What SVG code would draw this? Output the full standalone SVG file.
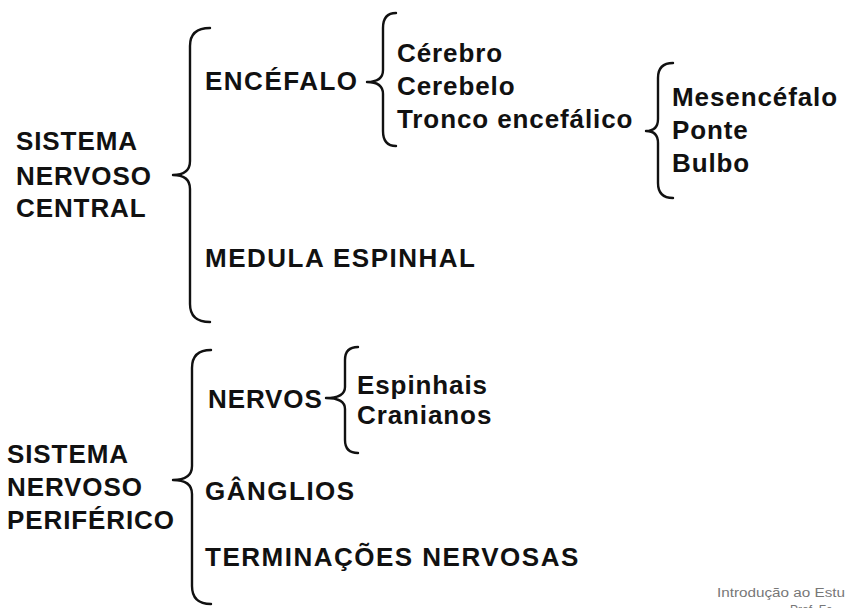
<svg xmlns="http://www.w3.org/2000/svg" width="845" height="608" viewBox="0 0 845 608">
<style>
.t{font-family:"Liberation Sans",Arial,sans-serif;font-weight:bold;font-size:26px;fill:#111;letter-spacing:0.9px}
.u{letter-spacing:1.5px}
.b{fill:none;stroke:#111;stroke-width:2.4;stroke-linecap:round;stroke-linejoin:round}
.f{font-family:"Liberation Sans",Arial,sans-serif;font-size:12px;fill:#777}
</style>
<rect width="845" height="608" fill="#fff"/>
<g id="connectors">
<path class="b" d="M210,28 Q190,28 190,46 L190,161 Q190,175 173,175 Q190,175 190,189 L190,304 Q190,322 210,322"/>
<path class="b" d="M396,13 Q383,13 383,28 L383,70 Q383,82 367,82 Q383,82 383,94 L383,131 Q383,146 396,146"/>
<path class="b" d="M673,63 Q658,63 658,78 L658,119 Q658,131 646,131 Q658,131 658,143 L658,183 Q658,198 673,198"/>
<path class="b" d="M211,350 Q192,350 192,368 L192,466 Q192,480 173,480 Q192,480 192,494 L192,586 Q192,604 211,604"/>
<path class="b" d="M358,347 Q345,347 345,360 L345,387 Q345,398 326,398 Q345,398 345,409 L345,440 Q345,453 358,453"/>
</g>
<g id="snc"><text class="t" x="16" y="150">SISTEMA</text><text class="t" x="16" y="185">NERVOSO</text><text class="t" x="16" y="217">CENTRAL</text></g>
<g id="encefalo"><text class="t u" x="205" y="90">ENCÉFALO</text></g>
<g id="cerebro"><text class="t" x="397" y="62">Cérebro</text></g>
<g id="cerebelo"><text class="t" x="397" y="95">Cerebelo</text></g>
<g id="tronco"><text class="t" x="397" y="128">Tronco encefálico</text></g>
<g id="mesencefalo"><text class="t" x="672" y="106">Mesencéfalo</text></g>
<g id="ponte"><text class="t" x="672" y="139">Ponte</text></g>
<g id="bulbo"><text class="t" x="672" y="172">Bulbo</text></g>
<g id="medula"><text class="t u" x="205" y="267">MEDULA ESPINHAL</text></g>
<g id="snp"><text class="t" x="7" y="463">SISTEMA</text><text class="t" x="7" y="496">NERVOSO</text><text class="t" x="7" y="529">PERIFÉRICO</text></g>
<g id="nervos"><text class="t" x="208" y="408">NERVOS</text></g>
<g id="espinhais"><text class="t" x="357" y="394">Espinhais</text></g>
<g id="cranianos"><text class="t" x="357" y="424">Cranianos</text></g>
<g id="ganglios"><text class="t u" x="205" y="500">GÂNGLIOS</text></g>
<g id="terminacoes"><text class="t u" x="205" y="566">TERMINAÇÕES NERVOSAS</text></g>
<g id="footer"><text class="f" x="717" y="597" textLength="128" lengthAdjust="spacingAndGlyphs">Introdução ao Estu</text><text class="f" x="790" y="614">Prof. Fe</text></g>
</svg>
